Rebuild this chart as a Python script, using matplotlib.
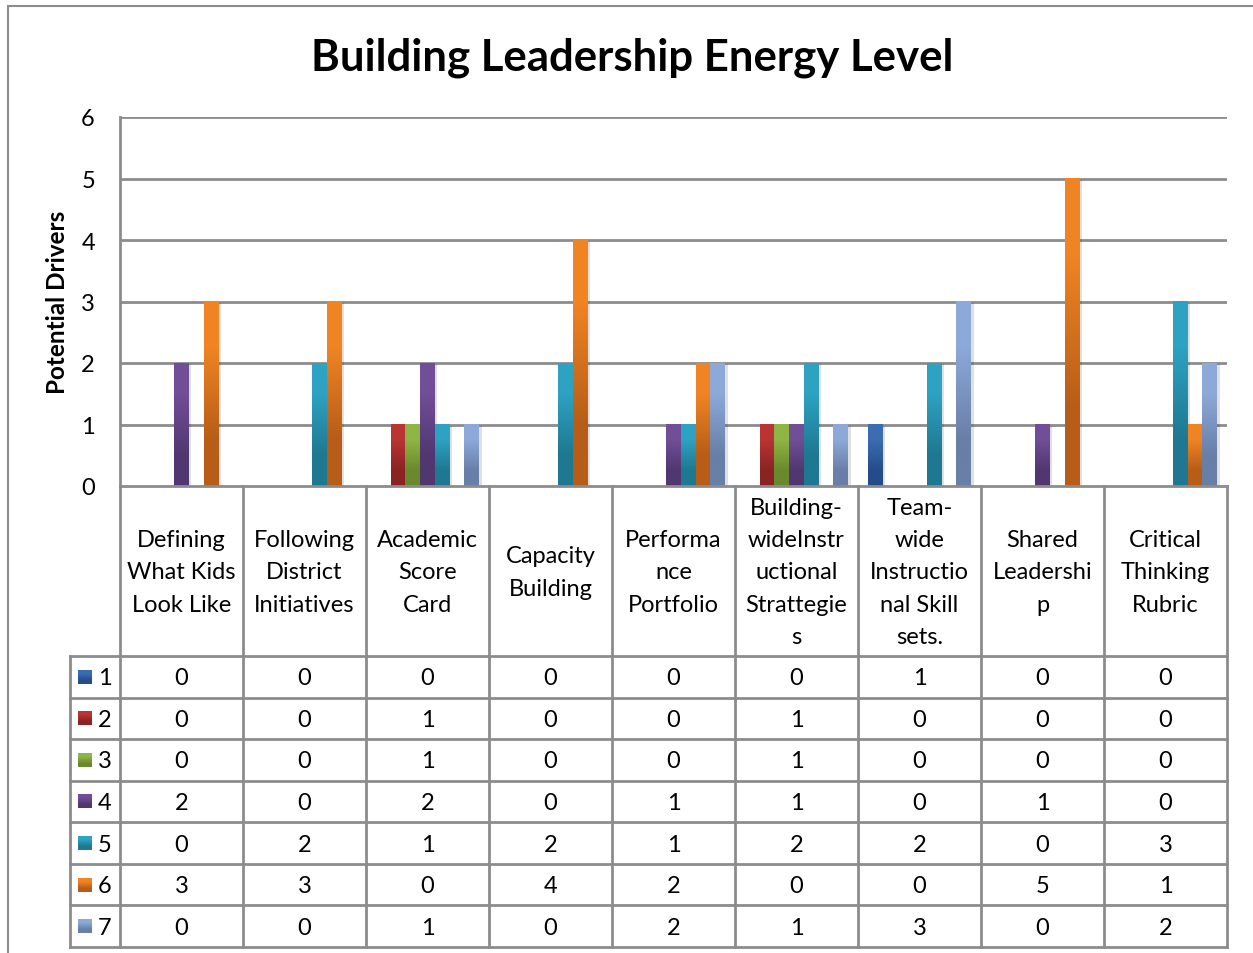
import numpy as np
import matplotlib
matplotlib.use("Agg")
import matplotlib.pyplot as plt
from matplotlib.colors import to_rgb
from matplotlib.patches import Rectangle

plt.rcParams['font.family'] = ['Lato', 'DejaVu Sans']

# data
categories = ["Defining\nWhat Kids\nLook Like", "Following\nDistrict\nInitiatives",
              "Academic\nScore\nCard", "Capacity\nBuilding", "Performa\nnce\nPortfolio",
              "Building-\nwideInstr\nuctional\nStrattegie\ns",
              "Team-\nwide\nInstructio\nnal Skill\nsets.",
              "Shared\nLeadershi\np", "Critical\nThinking\nRubric"]
series_names = ["1", "2", "3", "4", "5", "6", "7"]
s1 = [0, 0, 0, 0, 0, 0, 1, 0, 0]
s2 = [0, 0, 1, 0, 0, 1, 0, 0, 0]
s3 = [0, 0, 1, 0, 0, 1, 0, 0, 0]
s4 = [2, 0, 2, 0, 1, 1, 0, 1, 0]
s5 = [0, 2, 1, 2, 1, 2, 2, 0, 3]
s6 = [3, 3, 0, 4, 2, 0, 0, 5, 1]
s7 = [0, 0, 1, 0, 2, 1, 3, 0, 2]
series = [s1, s2, s3, s4, s5, s6, s7]

# gradient colours (top, bottom)
top_cols = ["#3b6db3", "#bb3434", "#8fb544", "#714e98", "#2ea2c2", "#f08423", "#8da9d9"]
bot_cols = ["#244d88", "#8a2323", "#6a892d", "#513770", "#1e7891", "#b75d17", "#687fa8"]

W, H = 1253, 954
fig = plt.figure(figsize=(W / 100, H / 100), dpi=100)

def fx(px):
    return px / W

def fy(py):
    return 1 - py / H

grid_c = "#8c8c8c"

# outer chart border (right and bottom edges fall outside the image)
fig.patches.append(Rectangle((fx(8), fy(1000)), fx(1300), fy(7) - fy(1000),
                             transform=fig.transFigure, fill=False,
                             ec=grid_c, lw=1.5))

left, right, top, zero, bottom = 120, 1227, 118, 487, 948
ax = fig.add_axes([fx(left), fy(zero), fx(right - left), fy(top) - fy(zero)])
n = len(categories)
ax.set_xlim(0, n)
ax.set_ylim(0, 6)
for sp in ax.spines.values():
    sp.set_visible(False)
ax.spines['left'].set_visible(True)
ax.spines['left'].set_color(grid_c)
ax.spines['left'].set_linewidth(2)
ax.set_yticks(range(7))
ax.tick_params(axis='y', length=0, labelsize=17, pad=18)
ax.set_xticks([])
for v in range(1, 7):
    ax.axhline(v, color=grid_c, lw=2, zorder=1)
ax.set_ylabel("Potential Drivers", fontsize=17.5, fontweight='bold', labelpad=9)

grp = 0.84
bw = grp / len(series)
for si, vals in enumerate(series):
    grad = np.array([to_rgb(top_cols[si]), to_rgb(bot_cols[si])])[:, None, :]
    for ci, v in enumerate(vals):
        if v <= 0:
            continue
        x0 = ci + (1 - grp) / 2 + si * bw
        # soft shadow
        ax.add_patch(Rectangle((x0 + 0.02, 0), bw, v - 0.02, color="#000000",
                               alpha=0.12, lw=0, zorder=2))
        ax.imshow(grad, extent=(x0, x0 + bw, 0, v), aspect='auto',
                  interpolation='bilinear', zorder=3)
ax.set_xlim(0, n)
ax.set_ylim(0, 6)

fig.text(fx(632), fy(58), "Building Leadership Energy Level", ha='center',
         va='center', fontsize=31.5, fontweight='bold')

# data table
tleft = 70
key_w = (left - tleft) / ((right - left) / n)
hdr_h = 657 - zero
row_h = (bottom - 657) / len(series)
tab = fig.add_axes([fx(tleft), fy(bottom), fx(right - tleft), fy(zero) - fy(bottom)])
tab.set_xlim(-key_w, n)
tab.set_ylim(bottom - zero, 0)
tab.axis('off')
lw_t = 2
for ci in range(n + 1):
    tab.plot([ci, ci], [0, bottom - zero], color=grid_c, lw=lw_t, clip_on=False)
tab.plot([-key_w, -key_w], [hdr_h, bottom - zero], color=grid_c, lw=lw_t, clip_on=False)
tab.plot([0, n], [0, 0], color=grid_c, lw=lw_t, clip_on=False)
for ri in range(len(series) + 1):
    y = hdr_h + ri * row_h
    tab.plot([-key_w, n], [y, y], color=grid_c, lw=lw_t, clip_on=False)
for ci, lab in enumerate(categories):
    tab.text(ci + 0.5, hdr_h / 2 + 1, lab, ha='center', va='center',
             fontsize=17, linespacing=1.66)
for ri, vals in enumerate(series):
    yc = hdr_h + (ri + 0.5) * row_h
    for ci, v in enumerate(vals):
        tab.text(ci + 0.5, yc + 1, str(v), ha='center', va='center', fontsize=17)
    # legend key
    kx = -key_w + 0.065
    kw = 14 / ((right - left) / n)
    grad = np.array([to_rgb(top_cols[ri]), to_rgb(bot_cols[ri])])[:, None, :]
    tab.imshow(grad, extent=(kx, kx + kw, yc + 7, yc - 7), aspect='auto',
               interpolation='bilinear', zorder=3)
    tab.text(kx + kw + 0.05, yc + 1, series_names[ri], ha='left', va='center',
             fontsize=17)
tab.set_xlim(-key_w, n)
tab.set_ylim(bottom - zero, 0)

fig.savefig("out.png", dpi=100)
